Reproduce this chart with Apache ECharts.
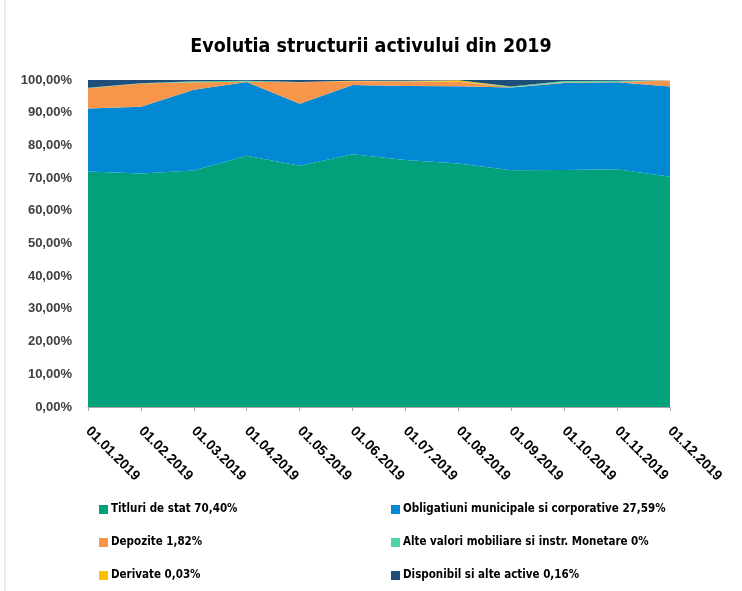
<!DOCTYPE html>
<html>
<head>
<meta charset="utf-8">
<script src="https://cdn.jsdelivr.net/npm/echarts@6/dist/echarts.min.js"></script>
<style>html,body{margin:0;padding:0;background:#fff;}#c{width:742px;height:591px;}</style>
</head>
<body>
<div id="c"></div>
<script>
var categories = ['01.01.2019','01.02.2019','01.03.2019','01.04.2019','01.05.2019','01.06.2019','01.07.2019','01.08.2019','01.09.2019','01.10.2019','01.11.2019','01.12.2019'];
var titluri     = [72.0, 71.4, 72.3, 76.8, 73.8, 77.3, 75.5, 74.5, 72.4, 72.5, 72.7, 70.40];
var obligatiuni = [19.3, 20.4, 24.7, 22.6, 18.9, 21.2, 22.7, 23.6, 25.3, 26.6, 26.6, 27.59];
var depozite    = [6.2, 7.1, 2.3, 0.1, 6.6, 1.1, 1.4, 1.4, 0.1, 0.2, 0.1, 1.82];
var alteValori  = [0.1, 0.1, 0.3, 0.3, 0.1, 0.0, 0.1, 0.0, 0.2, 0.4, 0.4, 0.0];
var derivate    = [0.0, 0.0, 0.0, 0.0, 0.0, 0.2, 0.1, 0.4, 0.0, 0.0, 0.0, 0.03];
var disponibil  = [2.4, 1.0, 0.4, 0.2, 0.6, 0.2, 0.2, 0.1, 2.0, 0.3, 0.2, 0.16];
var yTicks = [0,10,20,30,40,50,60,70,80,90,100];

var names = ['Titluri de stat 70,40%','Obligatiuni municipale si corporative 27,59%','Depozite 1,82%','Alte valori mobiliare si instr. Monetare 0%','Derivate 0,03%','Disponibil si alte active 0,16%'];
var colors = ['#02A07B','#0389D4','#F7964A','#4ED3A4','#FFC000','#1F4E79'];
var datas = [titluri, obligatiuni, depozite, alteValori, derivate, disponibil];
var NARROW = '"Liberation Sans Narrow", "DejaVu Sans Condensed", Roboto, sans-serif';

var series = names.map(function(n,i){
  return {
    name: n, type: 'line', stack: 'total', data: datas[i],
    symbol: 'none', showSymbol: false,
    lineStyle: {width: 0, color: colors[i]},
    itemStyle: {color: colors[i]},
    areaStyle: {color: colors[i], opacity: 1},
    emphasis: {disabled: true}
  };
});

function legendCol(items, left){
  return {
    data: items, orient: 'vertical', left: left, top: 502, height: 90, padding: 0, itemGap: 18,
    itemWidth: 9, itemHeight: 9, icon: 'rect', selectedMode: false,
    textStyle: {fontFamily: NARROW, fontWeight: 'bold', fontSize: 11.5, color: '#000', lineHeight: 15, padding: [0,0,0,-2]}
  };
}

var chart = echarts.init(document.getElementById('c'));
chart.setOption({
  animation: false,
  backgroundColor: '#fff',
  title: {
    text: 'Evolutia structurii activului din 2019',
    left: 'center', top: 32,
    textStyle: {fontFamily: NARROW, fontWeight: 'bold', fontSize: 19.5, color: '#000'}
  },
  graphic: [{type: 'line', shape: {x1: 5, y1: 0, x2: 5, y2: 591}, style: {stroke: '#d9d9d9', lineWidth: 1}}],
  legend: [legendCol([names[0], names[2], names[4]], 99), legendCol([names[1], names[3], names[5]], 391)],
  grid: {left: 88, right: 72, top: 80, bottom: 184, containLabel: false},
  xAxis: {
    type: 'category', data: categories, boundaryGap: false,
    axisLine: {show: true, lineStyle: {color: '#a6a6a6', width: 1}},
    axisTick: {show: true, alignWithLabel: true, length: 4, lineStyle: {color: '#a6a6a6'}},
    axisLabel: {rotate: -45, margin: 22, interval: 0, fontFamily: 'Liberation Sans', fontWeight: 'bold', fontSize: 14, color: '#000'},
    splitLine: {show: false}
  },
  yAxis: {
    type: 'value', min: 0, max: 100, interval: 10,
    axisLine: {show: false}, axisTick: {show: false}, splitLine: {show: false},
    axisLabel: {
      margin: 16, fontFamily: 'Liberation Sans', fontWeight: 'bold', fontSize: 13, color: '#404040',
      formatter: function(v){ return yTicks.indexOf(v) >= 0 ? v.toFixed(2).replace('.', ',') + '%' : ''; }
    }
  },
  series: series
});
</script>
</body>
</html>
